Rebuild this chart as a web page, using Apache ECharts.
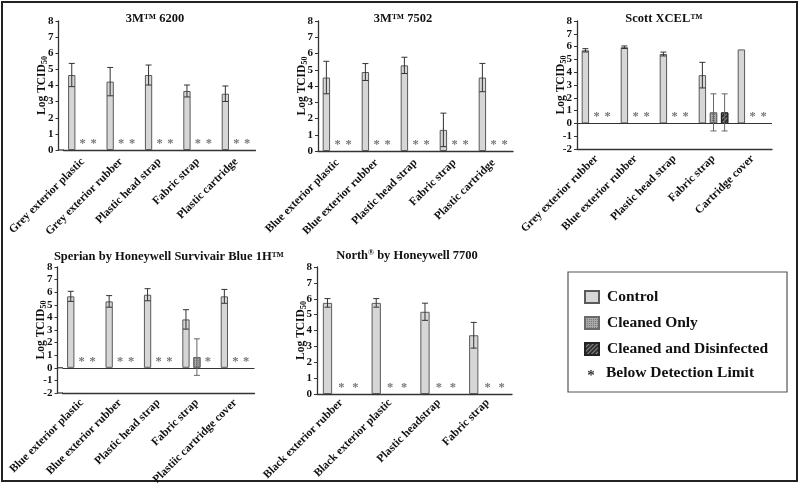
<!DOCTYPE html>
<html>
<head>
<meta charset="utf-8">
<script src="https://cdn.jsdelivr.net/npm/echarts@6/dist/echarts.min.js"></script>
<style>html,body{margin:0;padding:0;background:#fff}#c{width:800px;height:485px}</style>
</head>
<body>
<div id="c"></div>
<script>
// null = below detection limit (drawn as "*")
const seriesNames = ['Control', 'Cleaned Only', 'Cleaned and Disinfected'];

const cats6200 = ['Grey exterior plastic', 'Grey exterior rubber', 'Plastic head strap', 'Fabric strap', 'Plastic cartridge'];
const ctrl6200 = [4.65, 4.24, 4.65, 3.66, 3.49];
const ctrlErr6200 = [0.72, 0.88, 0.62, 0.37, 0.48];
const clean6200 = [null, null, null, null, null];
const cleanErr6200 = [0, 0, 0, 0, 0];
const dis6200 = [null, null, null, null, null];
const disErr6200 = [0, 0, 0, 0, 0];

const cats7502 = ['Blue exterior plastic', 'Blue exterior rubber', 'Plastic head strap', 'Fabric strap', 'Plastic cartridge'];
const ctrl7502 = [4.52, 4.86, 5.27, 1.3, 4.52];
const ctrlErr7502 = [1.0, 0.52, 0.5, 1.03, 0.87];
const clean7502 = [null, null, null, null, null];
const cleanErr7502 = [0, 0, 0, 0, 0];
const dis7502 = [null, null, null, null, null];
const disErr7502 = [0, 0, 0, 0, 0];

const catsScott = ['Grey exterior rubber', 'Blue exterior rubber', 'Plastic head strap', 'Fabric strap', 'Cartridge cover'];
const ctrlScott = [5.71, 5.95, 5.42, 3.77, 5.78];
const ctrlErrScott = [0.13, 0.1, 0.15, 1.0, 0];
const cleanScott = [null, null, null, 0.86, null];
const cleanErrScott = [0, 0, 0, 1.45, 0];
const disScott = [null, null, null, 0.86, null];
const disErrScott = [0, 0, 0, 1.45, 0];

const catsSperian = ['Blue exterior plastic', 'Blue exterior rubber', 'Plastic head strap', 'Fabric strap', 'Plastiic cartridge cover'];
const ctrlSperian = [5.67, 5.27, 5.8, 3.84, 5.67];
const ctrlErrSperian = [0.4, 0.46, 0.48, 0.77, 0.55];
const cleanSperian = [null, null, null, 0.85, null];
const cleanErrSperian = [0, 0, 0, 1.45, 0];
const disSperian = [null, null, null, null, null];
const disErrSperian = [0, 0, 0, 0, 0];

const catsNorth = ['Black exterior rubber', 'Black exterior plastic', 'Plastic headstrap', 'Fabric strap'];
const ctrlNorth = [5.74, 5.74, 5.18, 3.7];
const ctrlErrNorth = [0.27, 0.27, 0.54, 0.81];
const cleanNorth = [null, null, null, null];
const cleanErrNorth = [0, 0, 0, 0];
const disNorth = [null, null, null, null];
const disErrNorth = [0, 0, 0, 0];

const yTicks = { minA: 0, minB: -2, max: 8, step: 1 };

const FONT = 'Liberation Serif';

const panels = [
  { title: '3M™ 6200', cx: 150, ty: 7, grid: { left: 63.5, top: 21, width: 192, height: 129 }, yOff: 5, min: yTicks.minA, lm: 10,
    cats: cats6200, vals: [ctrl6200, clean6200, dis6200], errs: [ctrlErr6200, cleanErr6200, disErr6200] },
  { title: '3M™ 7502', cx: 398, ty: 7, grid: { left: 318, top: 21, width: 195, height: 130 }, yOff: 0, min: yTicks.minA, lm: 10,
    cats: cats7502, vals: [ctrl7502, clean7502, dis7502], errs: [ctrlErr7502, cleanErr7502, disErr7502] },
  { title: 'Scott XCEL™', cx: 659, ty: 7, grid: { left: 577, top: 21, width: 195, height: 128 }, yOff: 0, min: yTicks.minB, lm: 8,
    cats: catsScott, vals: [ctrlScott, cleanScott, disScott], errs: [ctrlErrScott, cleanErrScott, disErrScott] },
  { title: 'Sperian by Honeywell Survivair Blue 1H™', cx: 164, ty: 245, grid: { left: 62.5, top: 267, width: 192, height: 126 }, yOff: 5, min: yTicks.minB, lm: 8,
    cats: catsSperian, vals: [ctrlSperian, cleanSperian, disSperian], errs: [ctrlErrSperian, cleanErrSperian, disErrSperian] },
  { title: 'North{sup|®} by Honeywell 7700', cx: 402, ty: 244, grid: { left: 317, top: 267, width: 195, height: 127 }, yOff: 0, min: yTicks.minA, lm: 7,
    cats: catsNorth, vals: [ctrlNorth, cleanNorth, disNorth], errs: [ctrlErrNorth, cleanErrNorth, disErrNorth] }
];

const styles = [
  { color: '#d6d6d6', borderColor: '#5a5a5a', borderWidth: 1 },
  { color: '#a9a9a9', borderColor: '#6a6a6a', borderWidth: 1,
    decal: { symbol: 'rect', symbolSize: 1, dashArrayX: [1, 1], dashArrayY: [1, 1], color: '#7a7a7a' } },
  { color: '#2e2e2e', borderColor: '#222', borderWidth: 1,
    decal: { symbol: 'rect', symbolSize: 1, dashArrayX: [1, 0], dashArrayY: [1, 2], rotation: -Math.PI / 4, color: '#8a8a8a' } }
];

const titles = [], grids = [], xAxes = [], yAxes = [], series = [];

panels.forEach((p, pi) => {
  titles.push({
    text: p.title, left: p.cx, top: p.ty, textAlign: 'center',
    textStyle: { fontFamily: FONT, fontSize: 12.5, fontWeight: 'bold', color: '#111',
      rich: { sup: { fontFamily: FONT, fontSize: 8, fontWeight: 'bold', color: '#111', verticalAlign: 'top', lineHeight: 8 } } }
  });
  grids.push(Object.assign({ containLabel: false, outerBoundsMode: 'none' }, p.grid));
  xAxes.push({
    type: 'category', gridIndex: pi, data: p.cats,
    axisLine: { onZero: false, lineStyle: { color: '#333', width: 1.3 } },
    axisTick: { alignWithLabel: true, length: 3, lineStyle: { color: '#333' } },
    axisLabel: { rotate: 45, interval: 0, margin: p.lm, fontFamily: FONT, fontSize: 11.5, fontWeight: 'bold', color: '#111' }
  });
  yAxes.push({
    type: 'value', gridIndex: pi, min: p.min, max: yTicks.max, interval: yTicks.step, offset: p.yOff,
    name: '{a|Log TCID}{s|50}', nameLocation: 'middle', nameGap: 9, nameRotate: 90, nameMoveOverlap: false,
    nameTextStyle: { rich: {
      a: { fontFamily: FONT, fontSize: 11.5, fontWeight: 'bold', color: '#111', lineHeight: 14 },
      s: { fontFamily: FONT, fontSize: 8, fontWeight: 'bold', color: '#111', lineHeight: 14, padding: [5, 0, 0, 0] } } },
    axisLine: { show: true, lineStyle: { color: '#333', width: 1.3 } },
    axisTick: { show: true, length: 3, lineStyle: { color: '#333' } },
    splitLine: { show: false },
    axisLabel: { margin: 5, fontFamily: FONT, fontSize: 11, fontWeight: 'bold', color: '#111' }
  });
  p.vals.forEach((arr, si) => {
    const s = {
      type: 'bar', name: seriesNames[si], xAxisIndex: pi, yAxisIndex: pi,
      barWidth: '19%', barGap: '50%',
      itemStyle: styles[si],
      label: { show: false, position: 'top', distance: 0, formatter: '*', fontFamily: FONT, fontSize: 12.5, fontWeight: 'bold', color: '#777' },
      data: arr.map(v => v === null
        ? { value: 0, label: { show: true }, itemStyle: { borderWidth: 0 } }
        : v),
      silent: true, z: 2
    };
    if (si === 0 && p.min < 0) {
      s.markLine = { silent: true, symbol: 'none', label: { show: false },
        lineStyle: { color: '#333', type: 'solid', width: 1.2 }, data: [{ yAxis: 0 }] };
    }
    series.push(s);
  });
  p.vals.forEach((arr, si) => {
    const off = si - 1;
    const data = [];
    arr.forEach((v, i) => { if (v !== null && p.errs[si][i] > 0) data.push([i, v, p.errs[si][i]]); });
    series.push({
      type: 'custom', name: 'err' + pi + '_' + si, xAxisIndex: pi, yAxisIndex: pi, silent: true, z: 5,
      data: data,
      renderItem: function (params, api) {
        const i = api.value(0), v = api.value(1), e = api.value(2);
        const band = api.size([1, 0])[0];
        const x = api.coord([i, v])[0] + off * band * 0.285;
        const y1 = api.coord([i, v + e])[1], y2 = api.coord([i, v - e])[1];
        const st = { stroke: si === 0 ? '#333' : '#666', lineWidth: 1 };
        return { type: 'group', children: [
          { type: 'line', shape: { x1: x, y1: y1, x2: x, y2: y2 }, style: st },
          { type: 'line', shape: { x1: x - 3, y1: y1, x2: x + 3, y2: y1 }, style: st },
          { type: 'line', shape: { x1: x - 3, y1: y2, x2: x + 3, y2: y2 }, style: st }
        ] };
      }
    });
  });
});

const graphics = [
  { type: 'rect', shape: { x: 2, y: 2, width: 795, height: 479 }, style: { fill: 'none', stroke: '#222', lineWidth: 2 }, silent: true },
  { type: 'rect', shape: { x: 568, y: 272, width: 219, height: 120 }, style: { fill: 'none', stroke: '#555', lineWidth: 1.2 }, silent: true },
  { type: 'text', x: 591, y: 376, style: { text: '*', fontFamily: FONT, fontSize: 15, fontWeight: 'bold', fill: '#333', align: 'center', verticalAlign: 'middle' }, silent: true },
  { type: 'text', x: 606, y: 373, style: { text: 'Below Detection Limit', fontFamily: FONT, fontSize: 15.5, fontWeight: 'bold', fill: '#111', align: 'left', verticalAlign: 'middle' }, silent: true }
];

const chart = echarts.init(document.getElementById('c'), null, { renderer: 'canvas' });
const option = {
  backgroundColor: '#fff',
  animation: false,
  aria: { enabled: false },
  title: titles,
  grid: grids,
  xAxis: xAxes,
  yAxis: yAxes,
  legend: {
    data: seriesNames, orient: 'vertical', left: 584, top: 289, padding: 0, itemWidth: 14, itemHeight: 12, itemGap: 10,
    icon: 'rect', selectedMode: false,
    textStyle: { fontFamily: FONT, fontSize: 15.5, fontWeight: 'bold', color: '#111', lineHeight: 16, padding: [0, 0, 0, 3] }
  },
  graphic: graphics,
  series: series
};
chart.setOption(option);

// extend the x-axis line (and zero line) to the offset y-axis, using the library's own scales
panels.forEach((p, pi) => {
  if (!p.yOff) return;
  const xStart = p.grid.left - p.yOff;
  const levels = [p.min];
  if (p.min < 0) levels.push(0);
  levels.forEach(lv => {
    const y = chart.convertToPixel({ yAxisIndex: pi }, lv);
    graphics.push({ type: 'line', shape: { x1: xStart, y1: y, x2: p.grid.left + 0.5, y2: y },
      style: { stroke: '#333', lineWidth: 1.2 }, silent: true });
  });
});
chart.setOption({ graphic: graphics });
</script>
</body>
</html>
